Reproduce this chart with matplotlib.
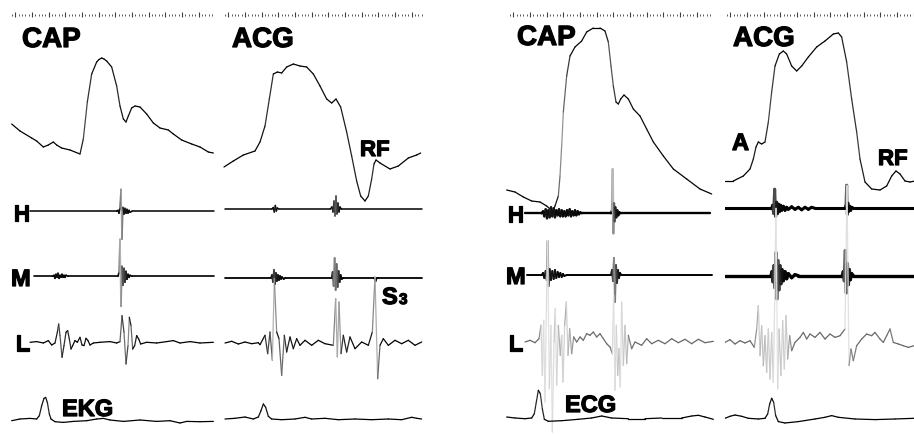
"""
Carotid pulse (CAP), apexcardiogram (ACG), phonocardiogram (H, M, L) and ECG
recordings, two examples side by side.  Traces digitised from the figure.
Time in ms, amplitudes in trace units relative to each trace's baseline.
"""

import numpy as np
import matplotlib.pyplot as plt
import matplotlib.patheffects as pe
from matplotlib.collections import LineCollection

FIG_W, FIG_H = 914, 435
MS_PER_PX = 3

# ---------------- record 1, CAP ----------------
cap1_t = [5, 30, 65, 80, 100, 115, 130, 140, 155, 180, 210, 220, 232, 245, 260, 267, 275, 282, 290,
          305, 320, 330, 340, 348, 355, 365, 375, 390, 410, 430, 450, 475, 490, 515, 545, 570, 595, 610]
cap1_v = [95, 88, 81, 78, 72, 74, 77, 74, 71, 69, 65, 80, 117, 145, 157, 159.5, 161, 160, 158,
          152, 133, 113, 100, 97, 103, 111, 113, 112, 105, 96, 91, 89, 85, 79, 75, 72, 67, 66]
h1_t = [60, 320, 324, 327, 330, 333, 336, 339, 342, 345, 348, 351, 354, 357, 360, 366, 612]
h1_v = [0, 0, 1, -2, 3, 22, -28, 4, -3, 3, -2, 2, -2, 1, -1, 0, 0]
m1_t = [72, 129, 132, 135, 138, 141, 144, 147, 150, 153, 156, 159, 162, 165, 168, 174,
        324, 327, 330, 333, 336, 339, 342, 345, 348, 351, 354, 357, 360, 366, 612]
m1_v = [0, 0, 1, -2, 2, -1, 3, -2, 1, -1, 2, -1, 1, -1, 1, 0,
        0, 4, 37, -30, 10, -9, 8, -6, 5, -3, 2, -1, 1, 0, 0]
l1_t = [60, 80, 100, 115, 125, 135, 142, 146, 150, 156, 162, 168, 173, 178, 183, 188, 195, 202, 210,
        216, 222, 228, 234, 240, 250, 270, 300, 320, 330, 336, 342, 348, 354, 358, 363, 368, 374, 380,
        386, 392, 410, 440, 470, 490, 510, 540, 570, 610]
l1_v = [0, 0.7, -0.7, 1.7, -2.7, -0.7, 10, 18.3, 6.7, -15, -3.3, 10, 11.7, 3.3, -6.7, -3.3, 1.7, 0, 5,
        -2.7, -3.3, 4, 1.7, -2.7, -0.7, 0, 0.7, -0.7, 0.7, 26.7, 10, -21.7, -3.3, 25, 16.7, -6.7, -3.3, 6.7,
        3.3, -1.7, 0, -0.7, 0.7, 1.7, -0.7, 0.7, -0.7, 0]
ekg1_t = [5, 30, 60, 80, 88, 95, 102, 107, 112, 118, 123, 135, 160, 190, 230, 260, 280, 300, 340,
          390, 440, 480, 510, 530, 570, 610]
ekg1_v = [-1, 0.7, 1.3, 0.7, 4, 14, 21.3, 22.3, 17.3, 5.7, 0.7, -2, -2.7, -1.7, -1, 0.7, 1.3, -0.3, -1.7,
          -0.3, -1.7, -1, -3.3, -1.7, -2, -1.7]

# ---------------- record 1, ACG ----------------
acg2_t = [6, 34, 64, 99, 114, 129, 142, 154, 166, 179, 194, 214, 234, 254, 274, 294, 314, 329,
          342, 356, 374, 389, 404, 416, 429, 439, 449, 456, 462, 474, 504, 529, 559, 584, 596]
acg2_v = [52, 58, 64, 68, 77, 93, 120, 145, 147, 146, 152, 155, 153, 152, 145, 133, 120, 116,
          120, 112, 87, 63, 38, 23, 18, 23, 40, 55, 59, 56, 50, 53, 61, 64, 66]
h2_t = [9, 150, 154, 157, 160, 163, 166, 170, 325, 330, 333, 336, 339, 342, 345, 348, 351, 354, 358, 599]
h2_v = [0, 0, 1.5, -3, 3.5, -2, 1, 0, 0, 2, -3, 8, -7, 13, -5, 6, -3, 2, 0, 0]
m2_t = [9, 147, 150, 153, 156, 159, 162, 165, 168, 171, 174, 177, 180, 185, 189,
        329, 332, 335, 338, 341, 344, 347, 350, 353, 356, 359, 364, 455, 459, 461, 464, 468, 599]
m2_v = [0, 0, 3, -4, 8, -6, 5, -3, 3, -2, 2, -1, 1, -1, 0,
        0, 6, -8, 20, -12, 14, -9, 7, -4, 3, -1, 0, 0, -1, -3, 0, 0, 0]
l2_t = [9, 29, 49, 69, 89, 109, 114, 129, 137, 144, 151, 157, 164, 171, 179, 187, 194, 204, 214, 224,
        234, 249, 269, 289, 309, 334, 341, 346, 351, 357, 364, 374, 384, 399, 419, 439, 451, 459, 467,
        474, 484, 499, 519, 539, 559, 579, 599]
l2_v = [0, 1.7, -1, 1, -0.7, 0.3, -1.7, 7.7, -10.7, 11, -17.3, 64.3, 11, 4.3, -32.3, 7.7, -9, 6, -5.7, 4.3,
        -2.3, 2.7, -2.3, 2.7, -0.7, -2.3, 44.3, -14, 41, -10.7, 7.7, -9, 6, -5.7, 1, -2.3, 11, 66, -35.7,
        -2.3, 4.3, -2.3, 2.7, -0.7, 2.7, -2.3, 1]
ekg2_t = [9, 39, 69, 94, 109, 117, 124, 131, 139, 149, 179, 219, 249, 269, 309, 349, 399, 449, 499,
          539, 569, 584, 599]
ekg2_v = [0, 0.7, 2, 0, 2, 8.3, 15, 11.7, 2.7, 0, -0.7, 0, 1.7, 0, 0.7, -0.7, 0, -0.7, 0,
          -0.7, 1.7, 0.7, 0]

# ---------------- record 2, CAP ----------------
cap3_t = [2, 27, 52, 77, 102, 122, 132, 141, 147, 157, 162, 167, 172, 182, 192, 207, 227, 242, 262,
          282, 297, 307, 315, 322, 330, 337, 344, 354, 367, 382, 402, 422, 442, 472, 502, 542, 582, 617]
cap3_v = [29, 27, 22, 18, 17, 13, 10, 8, 13, 23, 43, 73, 107, 143, 163, 172, 178, 187, 191,
          191, 188, 177, 153, 133, 117, 115, 120, 124, 120, 110, 103, 90, 77, 63, 50, 40, 30, 25]
h3_t = [57, 107, 111, 115, 119, 123, 127, 131, 135, 139, 143, 147, 151, 155, 159, 163, 167, 171, 175,
        179, 183, 187, 191, 195, 199, 203, 207, 211, 215, 219, 223, 227,
        315, 318, 320, 322, 324, 326, 328, 331, 334, 337, 340, 344, 612]
h3_v = [0, 0, 2, -3, 4, -5, 3, -4, 6, -3, 5, -4, 3, -2, 4, -3, 3, -3, 2,
        -3, 3, -2, 4, -3, 2, -2, 3, -2, 2, -1, 1, 0,
        0, 3, 44, -20, 10, -8, 6, -4, 3, -2, 1, 0, 0]
m3_t = [62, 107, 111, 115, 119, 122, 125, 128, 131, 135, 139, 143, 147, 151, 155, 159, 163, 167, 171,
        175, 182, 315, 318, 321, 324, 327, 330, 333, 336, 339, 342, 346, 617]
m3_v = [0, 0, 2, -3, 4, -5, 34, -11, 6, -5, 4, -4, 5, -3, 3, -2, 2, -2, 1,
        -1, 0, 0, 5, -6, 17, -27, 10, -8, 5, -3, 2, 0, 0]
l3_t = [57, 72, 87, 99, 105, 109, 113, 117, 121, 125, 130, 135, 139, 144, 148, 152, 157, 163, 167, 171,
        176, 181, 186, 191, 197, 203, 212, 222, 232, 242, 252, 262, 272, 282, 292, 302, 312, 319, 323,
        327, 331, 335, 339, 343, 347, 352, 357, 362, 367, 377, 387, 407, 422, 437, 457, 477, 497, 517,
        537, 557, 577, 597, 622]
l3_v = [0, 1.7, -0.7, 3.3, 16.7, -33.3, 21.7, -60, 30, 101.7, -46.7, 16.7, -90, 0, 33.3, -43.3, 16.7,
        -13.3, 6.7, -40, 16.7, 40, -13.3, 13.3, -11.7, 5, 0, 5, 1.7, 8.3, 6.7, 10, 5, 8.3, 3.3, -1.7, -5,
        -11.7, 46.7, -48.3, 16.7, -33.3, -6.7, -45, 40, -23.3, 16.7, -21.7, 6.7, -6.7, 0, -3.3, 3.3, -1.7,
        1.7, -1.7, 3.3, -0.7, 2.7, -1.7, 2.7, -0.7, 0.7]
ecg3_t = [2, 27, 57, 77, 85, 91, 97, 103, 109, 115, 127, 167, 217, 257, 287, 317, 367, 417, 467,
          527, 557, 577, 597, 622]
ecg3_v = [1, 0, -0.7, 0, 4.3, 16, 27.7, 24.3, 9.3, -1.3, -3.3, -2.7, -1.3, 0, 2, 0, -0.7, -0.7, 0,
          0, 2, 2.7, 1, -1.3]

# ---------------- record 2, ACG ----------------
acg4_t = [0, 25, 55, 75, 85, 93, 100, 110, 120, 130, 140, 150, 163, 175, 185, 200, 215, 230, 250,
          275, 300, 325, 340, 350, 365, 380, 395, 405, 420, 440, 465, 485, 500, 513, 525, 540, 555, 570]
acg4_v = [38, 38, 43, 50, 60, 72, 77, 75, 77, 97, 127, 153, 165, 168, 165, 153, 148, 153, 162,
          172, 178, 185, 186, 182, 157, 120, 87, 60, 37, 30, 29, 33, 43, 48, 45, 38, 37, 38]
h4_t = [0, 140, 143, 146, 149, 152, 155, 158, 161, 164, 167, 170, 175, 180, 185, 190, 200, 210,
        220, 230, 240, 250, 260, 270, 360, 363, 365, 367, 369, 371, 374, 377, 380, 385, 567]
h4_v = [0, 0, 3, -5, 19, -8, 6, -5, 4, -3, 3, -2, 2, -2, 1, -1, 1.5, -1,
        1, -1.5, 1, -1, 1, 0, 0, 3, 23, -6, 5, -3, 2, -2, 1, 0, 0]
m4_t = [0, 138, 141, 144, 147, 150, 153, 156, 159, 162, 165, 168, 171, 175, 180, 185, 190, 200,
        210, 220, 352, 355, 358, 361, 364, 367, 370, 373, 376, 380, 385, 567]
m4_v = [0, 0, 4, -6, 10, -12, 23, -23, 15, -14, 10, -8, 6, -5, 4, -3, 2, -2,
        1, 0, 0, 4, -5, 25, -17, 12, -9, 6, -4, 2, 0, 0]
l4_t = [0, 15, 30, 45, 60, 75, 88, 95, 100, 105, 110, 115, 120, 125, 130, 135, 140, 145, 148, 153,
        158, 162, 168, 173, 178, 183, 188, 194, 200, 210, 225, 235, 245, 255, 270, 285, 300, 315, 330,
        345, 360, 366, 372, 378, 385, 395, 410, 425, 440, 450, 465, 475, 485, 495, 505, 520, 535, 550, 567]
l4_v = [-1.7, 1, -3.3, 0, -2.3, 0, -6.7, 11.7, 35, -15, 15, -25, 5, -31.7, 11.7, -38.3, 8.3, -41.7, 18.3,
        132.3, -48.3, 11.7, -35, 20, -28.3, 25, -18.3, 5, -10, -1.7, 3.3, 8.3, 1.7, 6.7, 3.3, 8.3, 1.7,
        6.7, 3.3, 5, 11.7, 155, -25, -8.3, -20, -5, 1.7, 6.7, 5, 8.3, 1.7, -1.7, 5, 11.7, -1.7, -3.3, -5,
        -6.7, -5]
ecg4_t = [0, 15, 30, 50, 70, 100, 120, 128, 134, 140, 146, 152, 160, 180, 220, 270, 300, 320, 340,
          390, 450, 510, 567]
ecg4_v = [-1, 1, 2.3, 1, -1, -1.7, -1, 3.3, 13.3, 19, 15, 1.7, -4.3, -5.7, -4.3, -1.7, 0, 1.7, 0,
          -1.7, -2.3, -1.7, -1]

# ---------------- layout (pixels of the 914x435 figure) ----------------
# panel: left edge, width, ruler span (ms), baselines of pressure/H/M/L/ECG rows
PANELS = [
    dict(x0=10, w=206, ruler=(6, 606), base=dict(P=220, H=212.3, M=277.3, L=343.3, E=420.7)),
    dict(x0=222, w=202, ruler=(9, 600), base=dict(P=220, H=210, M=279, L=344, E=420)),
    dict(x0=506, w=208, ruler=(12, 612), base=dict(P=220, H=214.3, M=276, L=343, E=419)),
    dict(x0=725, w=189, ruler=(6, 567), base=dict(P=220, H=209.3, M=276.7, L=341.7, E=418.3)),
]

# (row, t, v, linewidth, tone, fade speed)
TRACES = [
    [("P", cap1_t, cap1_v, 0.9, 1.0, 15), ("H", h1_t, h1_v, 1.1, 1.0, 25),
     ("M", m1_t, m1_v, 1.2, 1.0, 25), ("L", l1_t, l1_v, 0.9, 1.0, 15),
     ("E", ekg1_t, ekg1_v, 0.9, 1.0, 15)],
    [("P", acg2_t, acg2_v, 0.9, 1.0, 15), ("H", h2_t, h2_v, 1.1, 1.0, 25),
     ("M", m2_t, m2_v, 1.3, 1.0, 25), ("L", l2_t, l2_v, 0.9, 1.0, 15),
     ("E", ekg2_t, ekg2_v, 0.9, 1.0, 15)],
    [("P", cap3_t, cap3_v, 0.9, 1.0, 12), ("H", h3_t, h3_v, 1.7, 1.0, 30),
     ("M", m3_t, m3_v, 1.4, 1.0, 30), ("L", l3_t, l3_v, 0.9, 0.6, 12),
     ("E", ecg3_t, ecg3_v, 0.9, 1.0, 15)],
    [("P", acg4_t, acg4_v, 0.9, 1.0, 15), ("H", h4_t, h4_v, 2.2, 1.0, 40),
     ("M", m4_t, m4_v, 2.4, 1.0, 40), ("L", l4_t, l4_v, 0.9, 0.6, 12),
     ("E", ecg4_t, ecg4_v, 0.9, 1.0, 15)],
]

# labels: (panel, text, left px, baseline px, size)
LABELS = [
    (0, "CAP", 22, 48, 20), (0, "H", 13, 222, 17), (0, "M", 11, 287, 17), (0, "L", 15, 352, 17),
    (0, "EKG", 62, 417, 17),
    (1, "ACG", 232, 48, 20), (1, "RF", 360, 157, 16), (1, "S", 382, 305, 17),
    (2, "CAP", 517, 46, 20), (2, "H", 507, 223, 17), (2, "M", 506, 285, 17), (2, "L", 508, 352, 17),
    (2, "ECG", 565, 413, 17),
    (3, "ACG", 733, 47, 20), (3, "A", 732, 151, 17), (3, "RF", 878, 166, 16),
]

# heavier, print-like lettering
BOLD = [pe.withStroke(linewidth=0.9, foreground="black")]


def draw_trace(ax, t, v, base_px, lw, tone, s0):
    """Pen-recorder style: fast deflections are drawn fainter."""
    t = np.asarray(t, float)
    v = np.asarray(v, float)
    y = (FIG_H - base_px) + v
    pts = np.column_stack([t, y])
    segs = np.stack([pts[:-1], pts[1:]], axis=1)
    speed = np.abs(np.diff(v)) / (np.diff(t) / MS_PER_PX)
    dark = tone * (0.15 + 0.85 / (1 + (speed / s0) ** 1.5))
    colors = [(1 - d, 1 - d, 1 - d) for d in dark]
    lc = LineCollection(segs, colors=colors, linewidths=lw, capstyle="round", joinstyle="round")
    ax.add_collection(lc)


fig = plt.figure(figsize=(FIG_W / 100, FIG_H / 100), dpi=100)
fig.patch.set_facecolor("white")

axes = []
for p, traces in zip(PANELS, TRACES):
    ax = fig.add_axes([p["x0"] / FIG_W, 0, p["w"] / FIG_W, 1])
    ax.set_xlim(0, p["w"] * MS_PER_PX)
    ax.set_ylim(0, FIG_H)
    ax.axis("off")
    axes.append(ax)

    for row, t, v, lw, tone, s0 in traces:
        draw_trace(ax, t, v, p["base"][row], lw, tone, s0)

    # time ruler: 10 ms ticks, longer every 50 ms
    ticks = np.arange(p["ruler"][0], p["ruler"][1] + 1, 10)
    major = (np.arange(len(ticks)) % 5) == 1
    ax.vlines(ticks[~major], FIG_H - 16.5, FIG_H - 14.5, color="0.35", lw=0.7)
    ax.vlines(ticks[major], FIG_H - 17.5, FIG_H - 12.5, color="0.25", lw=0.8)

for i, text, px, py, size in LABELS:
    x0 = PANELS[i]["x0"]
    axes[i].text((px - x0) * MS_PER_PX, FIG_H - py, text, fontsize=size, fontweight="bold",
                 family="Liberation Sans", ha="left", va="baseline", clip_on=False,
                 path_effects=BOLD)

# subscript of S3
axes[1].text((399 - PANELS[1]["x0"]) * MS_PER_PX, FIG_H - 305, "3", fontsize=11,
             fontweight="bold", family="Liberation Sans", ha="left", va="baseline",
             path_effects=BOLD)

fig.savefig("out.png", dpi=100, facecolor="white")
